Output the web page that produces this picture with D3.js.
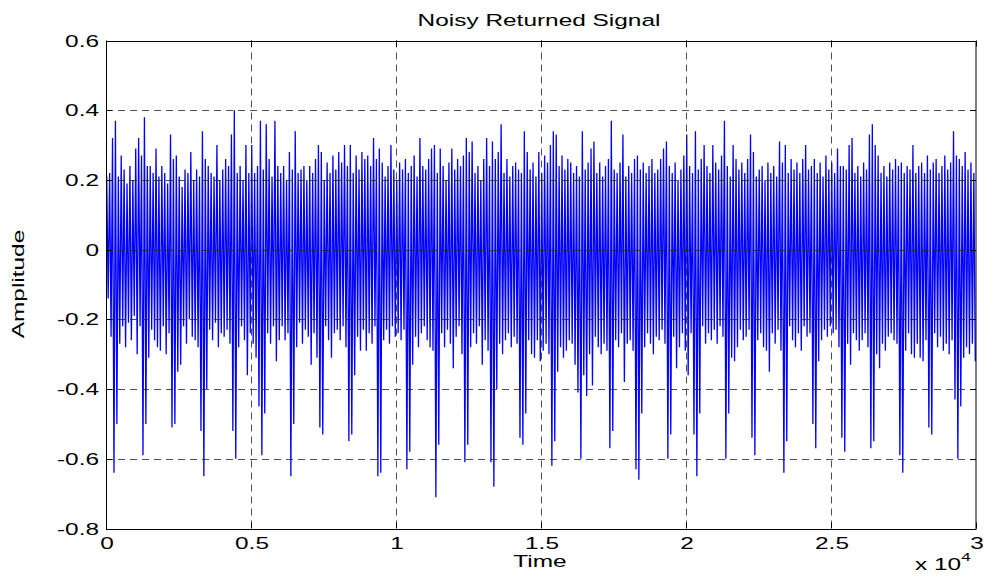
<!DOCTYPE html>
<html>
<head>
<meta charset="utf-8">
<script src="https://cdn.jsdelivr.net/npm/d3@7"></script>
<style>
  html, body { margin: 0; padding: 0; background: #ffffff; }
  svg { display: block; }
  text { font-family: "Liberation Sans", Arial, Helvetica, sans-serif; fill: #000; }
</style>
</head>
<body>
<svg id="chart" width="985" height="588"></svg>
<script>
// Signal peaks: one upward and one downward excursion per 100-sample cycle (300 cycles over 3e4 samples)
const peakHigh = [
  0.21, 0.22, 0.32, 0.37, 0.21, 0.27, 0.23, 0.19, 0.24, 0.20,
  0.29, 0.32, 0.27, 0.38, 0.24, 0.24, 0.22, 0.29, 0.21, 0.24,
  0.22, 0.19, 0.33, 0.26, 0.27, 0.21, 0.18, 0.23, 0.22, 0.28,
  0.20, 0.23, 0.21, 0.34, 0.26, 0.24, 0.22, 0.21, 0.30, 0.20,
  0.23, 0.26, 0.24, 0.33, 0.40, 0.22, 0.24, 0.20, 0.30, 0.22,
  0.30, 0.22, 0.24, 0.37, 0.23, 0.36, 0.26, 0.21, 0.37, 0.24,
  0.22, 0.24, 0.20, 0.28, 0.23, 0.34, 0.22, 0.23, 0.24, 0.20,
  0.24, 0.22, 0.26, 0.30, 0.28, 0.20, 0.25, 0.22, 0.27, 0.23,
  0.28, 0.25, 0.30, 0.24, 0.30, 0.22, 0.27, 0.23, 0.28, 0.26,
  0.27, 0.24, 0.32, 0.26, 0.29, 0.25, 0.21, 0.24, 0.30, 0.23,
  0.20, 0.25, 0.23, 0.26, 0.22, 0.24, 0.27, 0.21, 0.32, 0.24,
  0.23, 0.26, 0.29, 0.30, 0.22, 0.29, 0.24, 0.20, 0.25, 0.29,
  0.23, 0.26, 0.24, 0.27, 0.32, 0.28, 0.31, 0.22, 0.24, 0.20,
  0.26, 0.32, 0.24, 0.31, 0.26, 0.28, 0.36, 0.22, 0.26, 0.21,
  0.24, 0.25, 0.23, 0.22, 0.34, 0.28, 0.23, 0.25, 0.21, 0.28,
  0.22, 0.27, 0.25, 0.30, 0.34, 0.33, 0.24, 0.27, 0.23, 0.26,
  0.25, 0.22, 0.24, 0.21, 0.34, 0.23, 0.25, 0.29, 0.31, 0.22,
  0.25, 0.21, 0.24, 0.26, 0.37, 0.23, 0.22, 0.25, 0.33, 0.21,
  0.24, 0.22, 0.26, 0.27, 0.23, 0.25, 0.22, 0.24, 0.26, 0.22,
  0.23, 0.26, 0.29, 0.31, 0.24, 0.22, 0.25, 0.20, 0.23, 0.27,
  0.33, 0.24, 0.22, 0.34, 0.23, 0.26, 0.30, 0.24, 0.22, 0.30,
  0.25, 0.23, 0.27, 0.37, 0.24, 0.21, 0.30, 0.26, 0.23, 0.25,
  0.22, 0.26, 0.33, 0.28, 0.21, 0.23, 0.24, 0.20, 0.25, 0.22,
  0.24, 0.21, 0.31, 0.25, 0.30, 0.22, 0.26, 0.23, 0.25, 0.22,
  0.26, 0.30, 0.23, 0.24, 0.26, 0.22, 0.25, 0.21, 0.27, 0.23,
  0.25, 0.22, 0.29, 0.24, 0.24, 0.23, 0.30, 0.32, 0.22, 0.24,
  0.21, 0.25, 0.23, 0.33, 0.36, 0.30, 0.27, 0.22, 0.24, 0.21,
  0.25, 0.23, 0.26, 0.24, 0.25, 0.22, 0.24, 0.23, 0.30, 0.22,
  0.24, 0.25, 0.22, 0.27, 0.23, 0.25, 0.26, 0.22, 0.24, 0.27,
  0.23, 0.25, 0.34, 0.27, 0.26, 0.24, 0.28, 0.23, 0.25, 0.22
];

const peakLow = [
  -0.14, -0.25, -0.64, -0.50, -0.27, -0.22, -0.28, -0.21, -0.26, -0.19,
  -0.30, -0.22, -0.59, -0.50, -0.31, -0.23, -0.26, -0.28, -0.29, -0.22,
  -0.30, -0.24, -0.51, -0.50, -0.35, -0.33, -0.22, -0.27, -0.20, -0.25,
  -0.26, -0.28, -0.52, -0.65, -0.40, -0.23, -0.26, -0.21, -0.28, -0.24,
  -0.25, -0.23, -0.27, -0.52, -0.60, -0.28, -0.22, -0.26, -0.36, -0.24,
  -0.27, -0.31, -0.45, -0.59, -0.47, -0.24, -0.27, -0.22, -0.32, -0.26,
  -0.22, -0.26, -0.24, -0.65, -0.50, -0.28, -0.21, -0.27, -0.23, -0.25,
  -0.33, -0.24, -0.31, -0.51, -0.53, -0.22, -0.26, -0.31, -0.24, -0.23,
  -0.26, -0.22, -0.28, -0.55, -0.53, -0.36, -0.25, -0.29, -0.23, -0.29,
  -0.24, -0.27, -0.22, -0.65, -0.64, -0.26, -0.23, -0.27, -0.22, -0.25,
  -0.24, -0.26, -0.23, -0.63, -0.58, -0.33, -0.25, -0.28, -0.24, -0.22,
  -0.26, -0.28, -0.29, -0.71, -0.56, -0.24, -0.28, -0.23, -0.27, -0.34,
  -0.25, -0.22, -0.30, -0.61, -0.56, -0.28, -0.24, -0.27, -0.22, -0.33,
  -0.26, -0.29, -0.61, -0.68, -0.40, -0.27, -0.30, -0.26, -0.24, -0.28,
  -0.25, -0.27, -0.54, -0.56, -0.47, -0.26, -0.30, -0.31, -0.26, -0.32,
  -0.29, -0.27, -0.30, -0.62, -0.55, -0.35, -0.28, -0.31, -0.29, -0.26,
  -0.27, -0.33, -0.41, -0.60, -0.36, -0.42, -0.30, -0.39, -0.25, -0.28,
  -0.30, -0.27, -0.29, -0.57, -0.52, -0.26, -0.28, -0.24, -0.38, -0.27,
  -0.26, -0.29, -0.63, -0.66, -0.47, -0.28, -0.24, -0.27, -0.30, -0.25,
  -0.26, -0.23, -0.27, -0.60, -0.53, -0.25, -0.34, -0.28, -0.24, -0.29,
  -0.36, -0.24, -0.53, -0.65, -0.47, -0.22, -0.27, -0.24, -0.26, -0.23,
  -0.27, -0.22, -0.25, -0.60, -0.47, -0.31, -0.32, -0.28, -0.23, -0.26,
  -0.25, -0.23, -0.54, -0.59, -0.26, -0.24, -0.28, -0.29, -0.35, -0.24,
  -0.27, -0.23, -0.29, -0.64, -0.55, -0.22, -0.26, -0.28, -0.24, -0.29,
  -0.22, -0.25, -0.24, -0.50, -0.57, -0.32, -0.26, -0.23, -0.25, -0.22,
  -0.24, -0.23, -0.28, -0.54, -0.58, -0.27, -0.33, -0.24, -0.26, -0.29,
  -0.26, -0.24, -0.28, -0.57, -0.55, -0.30, -0.34, -0.27, -0.29, -0.25,
  -0.24, -0.26, -0.27, -0.59, -0.64, -0.29, -0.24, -0.30, -0.31, -0.27,
  -0.31, -0.32, -0.26, -0.51, -0.53, -0.24, -0.28, -0.25, -0.29, -0.27,
  -0.30, -0.26, -0.43, -0.60, -0.45, -0.31, -0.28, -0.30, -0.27, -0.32
];

const samplesPerCycle = 100;
const xTickValues = [0, 0.5, 1, 1.5, 2, 2.5, 3];          // in units of 1e4 samples
const xTickLabels = ["0", "0.5", "1", "1.5", "2", "2.5", "3"];
const yTickValues = [-0.8, -0.6, -0.4, -0.2, 0, 0.2, 0.4, 0.6];
const yTickLabels = ["-0.8", "-0.6", "-0.4", "-0.2", "0", "0.2", "0.4", "0.6"];

const titleText = "Noisy Returned Signal";
const xLabelText = "Time";
const yLabelText = "Amplitude";

// ---- layout ----
const plot = { left: 106, right: 976, top: 40.5, bottom: 528.5 };
const textStretch = 1.48;   // wide glyph rendering of the plotting tool
const fontSize = 16.5;

const svg = d3.select("#chart");

const x = d3.scaleLinear().domain([0, 30000]).range([plot.left, plot.right]);
const y = d3.scaleLinear().domain([-0.8, 0.6]).range([plot.bottom, plot.top]);

// Build the waveform: upper peak at the first quarter of each cycle, lower peak at the third quarter
const points = [];
peakHigh.forEach((h, i) => {
  points.push([i * samplesPerCycle + 25, h]);
  points.push([i * samplesPerCycle + 75, peakLow[i]]);
});

const clipId = "plot-clip";
svg.append("defs").append("clipPath").attr("id", clipId)
  .append("rect")
  .attr("x", plot.left).attr("y", plot.top)
  .attr("width", plot.right - plot.left).attr("height", plot.bottom - plot.top);

const line = d3.line().x(d => x(d[0])).y(d => y(d[1]));

svg.append("path")
  .datum(points)
  .attr("clip-path", `url(#${clipId})`)
  .attr("fill", "none")
  .attr("stroke", "#0000ff")
  .attr("stroke-width", 1.3)
  .attr("stroke-linejoin", "miter")
  .attr("stroke-miterlimit", 40)
  .attr("d", line);

// ---- grid (dashed, drawn over the data) ----
const grid = svg.append("g").attr("stroke", "#262626").attr("stroke-width", 1)
  .attr("stroke-dasharray", "7,5").attr("opacity", 0.8);

xTickValues.slice(1, -1).forEach(v => {
  const px = Math.round(x(v * 1e4)) + 0.5;
  grid.append("line").attr("x1", px).attr("x2", px)
    .attr("y1", plot.top).attr("y2", plot.bottom);
});
yTickValues.slice(1, -1).forEach(v => {
  const py = Math.round(y(v)) + 0.5;
  grid.append("line").attr("x1", plot.left).attr("x2", plot.right)
    .attr("y1", py).attr("y2", py);
});

// ---- axes box with inward ticks on all sides ----
const axisG = svg.append("g").attr("stroke", "#000").attr("stroke-width", 1).attr("fill", "none");
axisG.append("rect")
  .attr("x", plot.left + 0.5).attr("y", Math.round(plot.top) + 0.5)
  .attr("width", plot.right - plot.left - 0.5)
  .attr("height", Math.round(plot.bottom) - Math.round(plot.top));

const tickLen = 6;
xTickValues.forEach(v => {
  const px = Math.round(x(v * 1e4)) + 0.5;
  axisG.append("line").attr("x1", px).attr("x2", px)
    .attr("y1", plot.bottom).attr("y2", plot.bottom - tickLen);
  axisG.append("line").attr("x1", px).attr("x2", px)
    .attr("y1", plot.top).attr("y2", plot.top + tickLen);
});
yTickValues.forEach(v => {
  const py = Math.round(y(v)) + 0.5;
  axisG.append("line").attr("x1", plot.left).attr("x2", plot.left + tickLen)
    .attr("y1", py).attr("y2", py);
  axisG.append("line").attr("x1", plot.right).attr("x2", plot.right - tickLen)
    .attr("y1", py).attr("y2", py);
});

// ---- text helper: horizontally widened glyphs ----
function label(g, txt, px, py, anchor, size, rotate) {
  const rot = rotate ? ` rotate(${rotate})` : "";
  return g.append("text")
    .attr("transform", `translate(${px},${py})${rot} scale(${textStretch},1)`)
    .attr("text-anchor", anchor)
    .attr("font-size", size)
    .text(txt);
}

const textG = svg.append("g");

yTickValues.forEach((v, i) => {
  label(textG, yTickLabels[i], 99, y(v) + 6, "end", fontSize);
});
xTickValues.forEach((v, i) => {
  label(textG, xTickLabels[i], x(v * 1e4) + 1, 549, "middle", fontSize);
});

label(textG, titleText, 539, 26, "middle", fontSize);
label(textG, xLabelText, 540, 567, "middle", fontSize);
label(textG, yLabelText, 24, 284, "middle", fontSize, -90);

// exponent note for the x axis
const expG = textG.append("text")
  .attr("transform", `translate(915,570) scale(${textStretch},1)`)
  .attr("text-anchor", "start")
  .attr("font-size", fontSize);
expG.append("tspan").text("x 10");
expG.append("tspan").attr("dy", -9).attr("font-size", 11.5).text("4");
</script>
</body>
</html>
